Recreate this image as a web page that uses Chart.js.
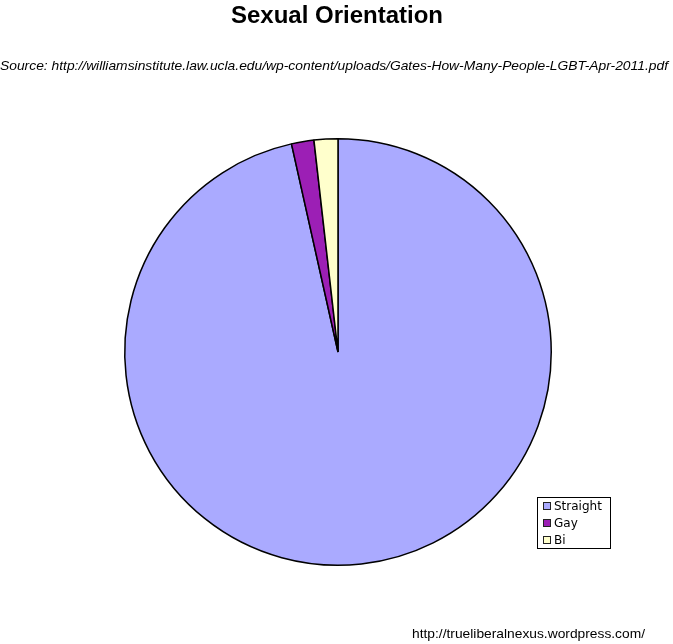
<!DOCTYPE html>
<html>
<head>
<meta charset="utf-8">
<script src="https://cdn.jsdelivr.net/npm/chart.js@4/dist/chart.umd.min.js"></script>
<style>
    html, body { margin: 0; padding: 0; background: #fff; }
    #wrap { position: relative; width: 673px; height: 644px; }
</style>
</head>
<body>
<div id="wrap"><canvas id="orientation-chart" width="673" height="644"></canvas></div>
<script>
// data
const categories = ["Straight", "Gay", "Bi"];
const shares = [96.5, 1.7, 1.8];
const sliceColors = ["#aaaaff", "#9c1fb5", "#ffffcc"];

const titleText = "Sexual Orientation";
const sourceText = "Source: http://williamsinstitute.law.ucla.edu/wp-content/uploads/Gates-How-Many-People-LGBT-Apr-2011.pdf";
const footerText = "http://trueliberalnexus.wordpress.com/";

// draws title, source line, footer and the small boxed legend
const decorations = {
    id: "decorations",
    afterDraw(chart) {
        const ctx = chart.ctx;
        ctx.save();
        ctx.fillStyle = "#000";
        ctx.textBaseline = "middle";

        ctx.textAlign = "center";
        ctx.font = "bold 24px 'Liberation Sans', Arial, sans-serif";
        ctx.fillText(titleText, 337, 16);

        ctx.font = "italic 13px 'Liberation Sans', Arial, sans-serif";
        let w = ctx.measureText(sourceText).width;
        let target = 668;
        ctx.save();
        ctx.translate(334, 66);
        ctx.scale(target / w, 1);
        ctx.fillText(sourceText, 0, 0);
        ctx.restore();

        ctx.textAlign = "left";
        ctx.font = "13px 'Liberation Sans', Arial, sans-serif";
        w = ctx.measureText(footerText).width;
        ctx.save();
        ctx.translate(412, 634);
        ctx.scale(233 / w, 1);
        ctx.fillText(footerText, 0, 0);
        ctx.restore();

        // legend box
        ctx.strokeStyle = "#000";
        ctx.lineWidth = 1;
        ctx.strokeRect(537.5, 497.5, 73, 51);
        ctx.font = "12px 'DejaVu Sans', sans-serif";
        categories.forEach((name, i) => {
            const y = 506 + i * 17;
            ctx.fillStyle = sliceColors[i];
            ctx.fillRect(543, y - 4, 8, 8);
            ctx.strokeStyle = "#222";
            ctx.strokeRect(543.5, y - 3.5, 7, 7);
            ctx.fillStyle = "#000";
            ctx.fillText(name, 554, y + 1);
        });
        ctx.restore();
    }
};

new Chart(document.getElementById("orientation-chart"), {
    type: "pie",
    data: {
        labels: categories,
        datasets: [{
            data: shares,
            backgroundColor: sliceColors,
            borderColor: "#000",
            borderWidth: 1.5
        }]
    },
    options: {
        responsive: false,
        animation: false,
        layout: { padding: { left: 124, right: 121, top: 138, bottom: 78 } },
        plugins: {
            legend: { display: false },
            title: { display: false },
            tooltip: { enabled: false }
        }
    },
    plugins: [decorations]
});
</script>
</body>
</html>
